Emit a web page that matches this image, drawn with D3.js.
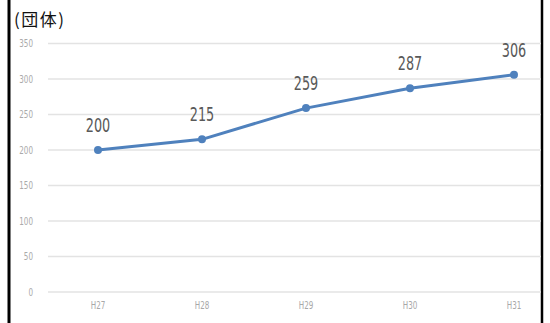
<!DOCTYPE html>
<html><head><meta charset="utf-8">
<script src="https://cdn.jsdelivr.net/npm/d3@7"></script>
<style>body{margin:0;background:#fff}svg{display:block}</style>
</head><body>
<svg id="c" width="550" height="323"></svg>
<script>
const categories = ["H27","H28","H29","H30","H31"];
const values = [200,215,259,287,306];
const yTicks = [0,50,100,150,200,250,300,350];
const unitLabel = "(団体)";

const svg = d3.select("#c");
const x = d3.scalePoint().domain(categories).range([98,514]);
const y = d3.scaleLinear().domain([0,350]).range([292,43.5]);
const gridX0 = 48, gridX1 = 541;
const narrow = "'DejaVu Sans Condensed','DejaVu Sans',sans-serif";

// border
svg.append("line").attr("x1",9).attr("x2",9).attr("y1",0).attr("y2",323).attr("stroke","#000").attr("stroke-width",3);
svg.append("line").attr("x1",542).attr("x2",542).attr("y1",0).attr("y2",323).attr("stroke","#000").attr("stroke-width",2.5);

// grid
svg.append("g").selectAll("line").data(yTicks).join("line")
  .attr("x1",gridX0).attr("x2",gridX1)
  .attr("y1",d=>y(d)).attr("y2",d=>y(d))
  .attr("stroke","#e3e3e3").attr("stroke-width",1.5);

// y labels
svg.append("g").selectAll("text").data(yTicks).join("text")
  .attr("transform",d=>`translate(33,${y(d)}) scale(0.8,1)`)
  .attr("dy","0.35em")
  .attr("text-anchor","end")
  .attr("font-family",narrow)
  .attr("font-size",10).attr("fill","#aaaaaa")
  .text(d=>d);

// x labels
svg.append("g").selectAll("text").data(categories).join("text")
  .attr("transform",d=>`translate(${x(d.valueOf())},309) scale(0.8,1)`)
  .attr("text-anchor","middle")
  .attr("font-family",narrow)
  .attr("font-size",10).attr("fill","#a8a8a8")
  .text(d=>d);

// unit
svg.append("text").attr("x",14).attr("y",26)
  .attr("font-family","'Noto Sans CJK JP',sans-serif")
  .attr("font-size",17).attr("fill","#111").attr("letter-spacing",1.5)
  .text(unitLabel);

const data = categories.map((c,i)=>({c,v:values[i]}));
svg.append("path").datum(data)
  .attr("fill","none").attr("stroke","#4f81bd").attr("stroke-width",3)
  .attr("stroke-linejoin","round")
  .attr("d",d3.line().x(d=>x(d.c)).y(d=>y(d.v)));

svg.append("g").selectAll("circle").data(data).join("circle")
  .attr("cx",d=>x(d.c)).attr("cy",d=>y(d.v)).attr("r",4)
  .attr("fill","#4f81bd");

svg.append("g").selectAll("text").data(data).join("text")
  .attr("transform",d=>`translate(${x(d.c)},${y(d.v)-18}) scale(0.75,1)`)
  .attr("text-anchor","middle")
  .attr("font-family",narrow)
  .attr("font-size",19).attr("fill","#595959")
  .text(d=>d.v);
</script>
</body></html>
